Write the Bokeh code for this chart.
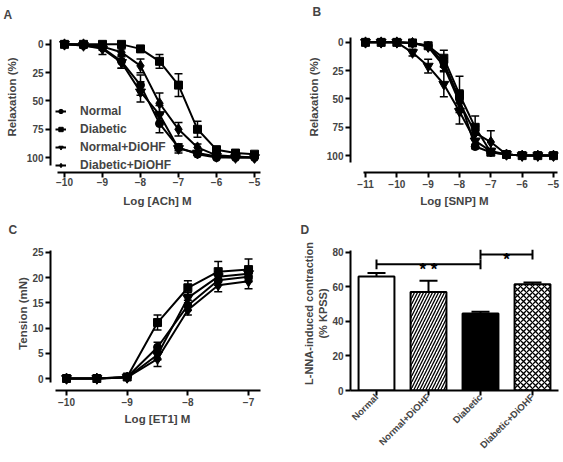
import math
from bokeh.plotting import figure
from bokeh.models import (Range1d, FixedTicker, ColumnDataSource, Whisker, TeeHead,
                          Legend, LegendItem, FactorRange)
from bokeh.layouts import column, row
from bokeh.embed import file_html
from bokeh.resources import INLINE
from bokeh.core.properties import value

FONT = "Liberation Sans"

series_names = ["Normal", "Diabetic", "Normal+DiOHF", "Diabetic+DiOHF"]

# ---------------- Panel A: ACh relaxation ----------------
ach_log = [-10, -9.5, -9, -8.5, -8, -7.5, -7, -6.5, -6, -5.5, -5]
ach_normal = [0, 1, 3, 15, 36, 70, 91, 97, 100, 100, 100]
ach_diabetic = [0, 0, 0, 0, 4, 15, 36, 75, 93, 96, 97]
ach_normal_diohf = [0, 1, 4, 16, 42, 62, 92, 96, 99, 100, 100]
ach_diabetic_diohf = [0, 0, 2, 7, 19, 52, 75, 91, 98, 99, 100]
ach_normal_err = [0, 0, 2, 6, 9, 8, 3, 1, 0, 0, 0]
ach_diabetic_err = [0, 0, 0, 0, 1, 6, 10, 7, 2, 2, 2]
ach_normal_diohf_err = [0, 1, 5, 5, 9, 8, 4, 2, 1, 0, 0]
ach_diabetic_diohf_err = [0, 0, 1, 3, 6, 9, 6, 3, 1, 0, 0]
ach_xticks = [-10, -9, -8, -7, -6, -5]
relax_yticks = [0, 25, 50, 75, 100]

# ---------------- Panel B: SNP relaxation ----------------
snp_log = [-11, -10.5, -10, -9.5, -9, -8.5, -8, -7.5, -7, -6.5, -6, -5.5, -5]
snp_normal = [0, 0, 0, 0.5, 3, 18, 50, 92, 97, 99, 100, 100, 100]
snp_diabetic = [0, 0, 0, 0.5, 3, 14, 46, 75, 97, 99, 100, 100, 100]
snp_normal_diohf = [0, 0, 0, 9, 21, 37, 61, 87, 96, 99, 100, 100, 100]
snp_diabetic_diohf = [0, 0, 0, 0.5, 4, 21, 53, 80, 88, 99, 100, 100, 100]
snp_normal_err = [0, 0, 0, 0, 1, 4, 8, 2, 1, 0, 0, 0, 0]
snp_diabetic_err = [0, 0, 0, 0, 1, 7, 16, 10, 1, 0, 0, 0, 0]
snp_normal_diohf_err = [0, 0, 0, 3, 6, 11, 11, 5, 1, 0, 0, 0, 0]
snp_diabetic_diohf_err = [0, 0, 0, 0, 1, 4, 6, 6, 10, 1, 0, 0, 0]
snp_xticks = [-11, -10, -9, -8, -7, -6, -5]

# ---------------- Panel C: ET1 contraction ----------------
et1_log = [-10, -9.5, -9, -8.5, -8, -7.5, -7]
et1_normal = [0, 0, 0.3, 6.2, 14.5, 19.5, 20.2]
et1_diabetic = [0, 0, 0.3, 11.1, 18, 21.2, 21.6]
et1_normal_diohf = [0, 0, 0.2, 4.7, 16, 20.2, 20.8]
et1_diabetic_diohf = [0, 0, 0.2, 3.9, 13.6, 18.5, 19.3]
et1_normal_err = [0, 0, 0.1, 1, 1, 1, 1]
et1_diabetic_err = [0, 0, 0.1, 1.5, 1.4, 2, 2.1]
et1_normal_diohf_err = [0, 0, 0.1, 1, 1, 1, 1]
et1_diabetic_diohf_err = [0, 0, 0.1, 1.5, 1, 1.3, 1.5]
et1_xticks = [-10, -9, -8, -7]
tension_yticks = [0, 5, 10, 15, 20, 25]

# ---------------- Panel D: L-NNA contraction ----------------
groups = ["Normal", "Normal+DiOHF", "Diabetic", "Diabetic+DiOHF"]
lnna = [66, 57, 44.5, 61.5]
lnna_err = [2, 6.5, 1, 1]
lnna_yticks = [0, 20, 40, 60, 80]
sig_from = ["Normal", "Diabetic"]
sig_to = ["Diabetic", "Diabetic+DiOHF"]
sig_level = [73, 78.6]
sig_marks = ["* *", "*"]

MARKERS = {"Normal": "circle", "Diabetic": "square",
           "Normal+DiOHF": "inverted_triangle", "Diabetic+DiOHF": "diamond"}
MSIZE = {"circle": 8, "square": 8, "inverted_triangle": 10, "diamond": 11}


def style_axis(ax, tick_standoff, label_standoff):
    ax.axis_line_width = 2
    ax.major_tick_line_width = 2
    ax.major_tick_in = 0
    ax.major_tick_out = 5
    ax.minor_tick_line_color = None
    ax.major_label_text_font = FONT
    ax.major_label_text_font_style = "bold"
    ax.major_label_text_font_size = "10px"
    ax.major_label_standoff = tick_standoff
    ax.axis_label_text_font = FONT
    ax.axis_label_text_font_style = "bold"
    ax.axis_label_text_font_size = "11.5px"
    ax.axis_label_standoff = label_standoff


def set_letter(p, letter, lx, FL, standoff=0):
    p.title.text = letter
    p.title.text_font = FONT
    p.title.text_font_style = "bold"
    p.title.text_font_size = "12px"
    p.title.align = "left"
    p.title.offset = lx - FL
    p.title.standoff = standoff


def line_panel(w, h, FL, FR, FT, FB, xr, yr, xticks, yticks, xb, yb,
               xlabel, ylabel, xs, ys_list, errs_list, letter, lx,
               xstand, ystand, legend_loc=None, title_standoff=0):
    p = figure(width=w, height=h, x_range=Range1d(*xr), y_range=Range1d(*yr),
               output_backend="svg", toolbar_location=None,
               min_border_left=FL, min_border_right=w - FR,
               min_border_top=FT, min_border_bottom=h - FB)
    p.outline_line_color = None
    p.xgrid.visible = False
    p.ygrid.visible = False
    p.xaxis.axis_label = xlabel
    p.yaxis.axis_label = ylabel
    p.xaxis.ticker = FixedTicker(ticks=xticks)
    p.yaxis.ticker = FixedTicker(ticks=yticks)
    p.xaxis.bounds = xb
    p.yaxis.bounds = yb
    style_axis(p.xaxis[0], xstand[0], xstand[1])
    style_axis(p.yaxis[0], ystand[0], ystand[1])
    items = []
    for name, ys, es in zip(series_names, ys_list, errs_list):
        src = ColumnDataSource(dict(x=xs, y=ys,
                                    lo=[a - b for a, b in zip(ys, es)],
                                    hi=[a + b for a, b in zip(ys, es)]))
        p.add_layout(Whisker(source=src, base="x", upper="hi", lower="lo",
                             line_width=1.5, line_color="black",
                             upper_head=TeeHead(size=8, line_width=1.5),
                             lower_head=TeeHead(size=8, line_width=1.5)))
        lr = p.line("x", "y", source=src, line_width=2, line_color="black")
        mk = MARKERS[name]
        sr = p.scatter("x", "y", source=src, marker=mk, size=MSIZE[mk],
                       fill_color="black", line_color="black")
        items.append(LegendItem(label=name, renderers=[lr, sr]))
    if legend_loc is not None:
        lg = Legend(items=items, location=legend_loc, background_fill_alpha=0,
                    border_line_alpha=0, padding=0, margin=0, spacing=4,
                    glyph_height=12, glyph_width=11, label_height=12,
                    label_standoff=14, label_text_font=FONT,
                    label_text_font_style="bold", label_text_font_size="12px")
        p.add_layout(lg)
    set_letter(p, letter, lx, FL, title_standoff)
    return p


# Row 1 frames: top 20, bottom 172.  Row 2 frames: top 16, bottom 170.
# Column 1 frames: left 50, right border 16.  Column 2 frames: left 70, right border 5.
pa = line_panel(280, 220, 50, 264, 20, 172, (-10.368, -4.737), (113.16, -20.18),
                ach_xticks, relax_yticks, (-10.18, -4.84), (-4.4, 107),
                "Log [ACh] M", "Relaxation (%)", ach_log,
                [ach_normal, ach_diabetic, ach_normal_diohf, ach_diabetic_diohf],
                [ach_normal_err, ach_diabetic_err, ach_normal_diohf_err, ach_diabetic_diohf_err],
                "A", 3, (0, 6), (2, 6), legend_loc=(5, 0))

pb = line_panel(283, 220, 70, 278, 20, 172, (-11.479, -4.84), (114.9, -18.42),
                snp_xticks, relax_yticks, (-11.06, -4.87), (-4.4, 106),
                "Log [SNP] M", "Relaxation (%)", snp_log,
                [snp_normal, snp_diabetic, snp_normal_diohf, snp_diabetic_diohf],
                [snp_normal_err, snp_diabetic_err, snp_normal_diohf_err, snp_diabetic_diohf_err],
                "B", 32, (2, 4), (2, 4), title_standoff=5)

pc = line_panel(280, 242, 50, 264, 16, 170, (-10.264, -6.737), (-2.38, 28.17),
                et1_xticks, tension_yticks, (-10.18, -6.8), (-0.7, 25.4),
                "Log [ET1] M", "Tension (mN)", et1_log,
                [et1_normal, et1_diabetic, et1_normal_diohf, et1_diabetic_diohf],
                [et1_normal_err, et1_diabetic_err, et1_normal_diohf_err, et1_diabetic_diohf_err],
                "C", 8, (2, 4), (2, 0))

# ---------------- Panel D ----------------
W, H, FL, FR, FT, FB = 283, 242, 70, 278, 16, 170
pd_ = figure(width=W, height=H, x_range=FactorRange(factors=groups, range_padding=0),
             y_range=Range1d(0, 89.08), output_backend="svg", toolbar_location=None,
             min_border_left=FL, min_border_right=W - FR,
             min_border_top=FT, min_border_bottom=H - FB)
pd_.outline_line_color = None
pd_.xgrid.visible = False
pd_.ygrid.visible = False
pd_.yaxis.ticker = FixedTicker(ticks=lnna_yticks)
pd_.yaxis.bounds = (0, 81)
pd_.yaxis.axis_label = "L-NNA-induced contraction\n(% KPSS)"
style_axis(pd_.yaxis[0], 2, 0)
style_axis(pd_.xaxis[0], 0, 0)
pd_.yaxis.axis_label_text_font_size = "11px"
pd_.xaxis.major_label_orientation = math.pi / 4
pd_.xaxis.major_label_text_font_size = "9.5px"
set_letter(pd_, "D", 20, FL)

bar_fill = ["white", "white", "black", "white"]
bar_hatch = ["blank", "/", "blank", "x"]
dsrc = ColumnDataSource(dict(cat=groups, val=lnna,
                             hi=[v + e for v, e in zip(lnna, lnna_err)],
                             fill=bar_fill, hatch=bar_hatch))
pd_.add_layout(Whisker(source=dsrc, base="cat", upper="hi", lower="val",
                       line_width=2, line_color="black", lower_head=None,
                       upper_head=TeeHead(size=18, line_width=2)))
pd_.vbar(x="cat", top="val", bottom=0, width=0.69, source=dsrc, fill_color="fill",
         line_color="black", line_width=2, hatch_pattern="hatch",
         hatch_color="black", hatch_scale=6, hatch_weight=1.3)

pos = {c: i + 0.5 for i, c in enumerate(groups)}
tick_h = 2.8
sx0, sy0, sx1, sy1 = [], [], [], []
tx, ty = [], []
for a, b, lev in zip(sig_from, sig_to, sig_level):
    sx0 += [pos[a], pos[a], pos[b]]
    sx1 += [pos[b], pos[a], pos[b]]
    sy0 += [lev, lev - tick_h, lev - tick_h]
    sy1 += [lev, lev + tick_h, lev + tick_h]
    tx.append((pos[a] + pos[b]) / 2)
    ty.append(lev - 3)
pd_.segment(x0=sx0, y0=sy0, x1=sx1, y1=sy1, line_color="black", line_width=2)
pd_.text(x=tx, y=ty, text=sig_marks, text_font=value(FONT), text_font_style="bold",
         text_font_size="17px", text_align="center", text_baseline="alphabetic")

layout = column(row(pa, pb), row(pc, pd_))
open("out.html", "w").write(file_html(layout, INLINE))
